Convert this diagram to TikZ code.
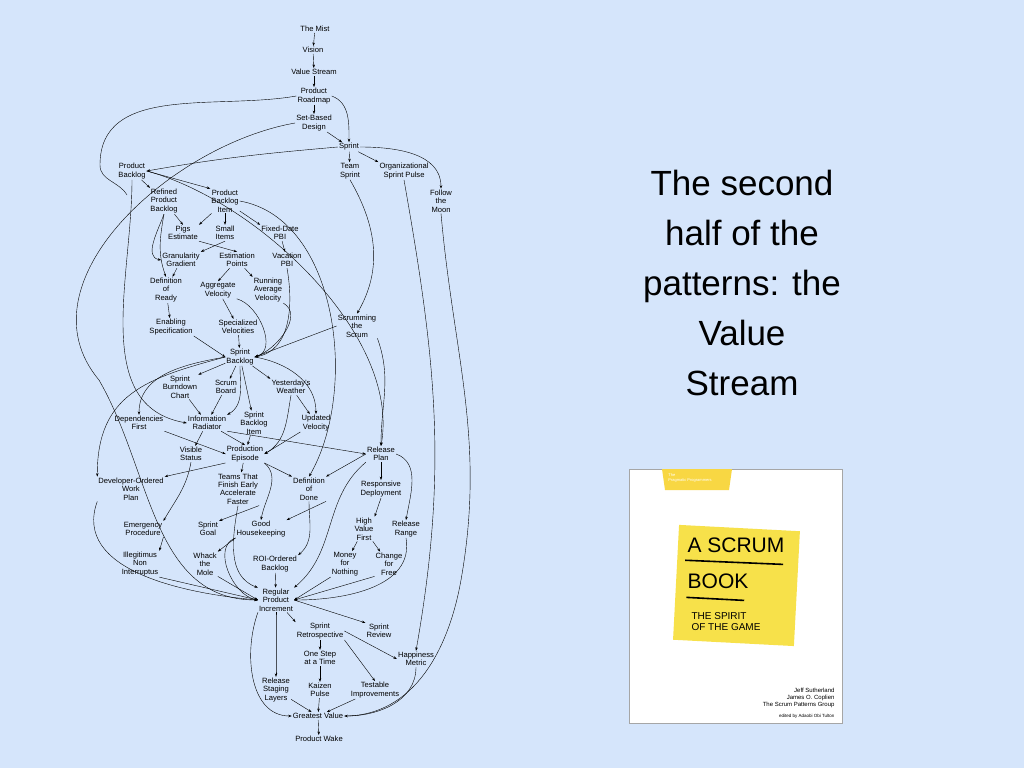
\documentclass[tikz,border=0pt]{standalone}
\usepackage{fontspec}
\setmainfont{Liberation Sans}
\usetikzlibrary{arrows.meta}
\definecolor{bg}{HTML}{D5E5FB}
\definecolor{note}{HTML}{F7E14A}
\begin{document}
\begin{tikzpicture}[x=1pt,y=-1pt,
  p/.style={align=center,font=\fontsize{7.6}{8.4}\selectfont,inner sep=1pt},
  e/.style={-{Stealth[length=3.5pt,width=2.5pt]},line width=0.4pt},
  big/.style={align=center,font=\fontsize{35}{50}\selectfont}]
\fill[bg] (0,0) rectangle (1024,768);
\useasboundingbox (0,0) rectangle (1024,768);
% nodes
\node[p] (mist) at (315,29) {The Mist};
\node[p] (vis) at (313,50) {Vision};
\node[p] (vs) at (314,72) {Value Stream};
\node[p] (rm) at (314,96) {Product\\Roadmap};
\node[p] (sbd) at (314,123) {Set-Based\\Design};
\node[p] (sp) at (349,147) {Sprint};
\node[p] (ts) at (350,171) {Team\\Sprint};
\node[p] (osp) at (404,171) {Organizational\\Sprint Pulse};
\node[p] (ftm) at (441,201) {Follow\\the\\Moon};
\node[p] (pb) at (132,171) {Product\\Backlog};
\node[p] (rpb) at (164,201) {Refined\\Product\\Backlog};
\node[p] (pbi) at (225,201) {Product\\Backlog\\Item};
\node[p] (pigs) at (183,233) {Pigs\\Estimate};
\node[p] (si) at (225,233) {Small\\Items};
\node[p] (fd) at (280,233) {Fixed-Date\\PBI};
\node[p] (gg) at (181,260) {Granularity\\Gradient};
\node[p] (ep) at (237,260) {Estimation\\Points};
\node[p] (vac) at (287,260) {Vacation\\PBI};
\node[p] (dor) at (166,290) {Definition\\of\\Ready};
\node[p] (av) at (218,290) {Aggregate\\Velocity};
\node[p] (rav) at (268,290) {Running\\Average\\Velocity};
\node[p] (es) at (171,327) {Enabling\\Specification};
\node[p] (sv) at (238,327) {Specialized\\Velocities};
\node[p] (sts) at (357,326) {Scrumming\\the\\Scrum};
\node[p] (sb) at (240,357) {Sprint\\Backlog};
\node[p] (sbc) at (180,387) {Sprint\\Burndown\\Chart};
\node[p] (scb) at (226,387) {Scrum\\Board};
\node[p] (yw) at (291,387) {Yesterday's\\Weather};
\node[p] (df) at (139,423) {Dependencies\\First};
\node[p] (ir) at (207,423) {Information\\Radiator};
\node[p] (sbi) at (254,423) {Sprint\\Backlog\\Item};
\node[p] (uv) at (316,423) {Updated\\Velocity};
\node[p] (vst) at (191,454) {Visible\\Status};
\node[p] (pe) at (245,454) {Production\\Episode};
\node[p] (rp) at (381,454) {Release\\Plan};
\node[p] (dow) at (131,489) {Developer-Ordered\\Work\\Plan};
\node[p] (tfe) at (238,489) {Teams That\\Finish Early\\Accelerate\\Faster};
\node[p] (dod) at (309,489) {Definition\\of\\Done};
\node[p] (rd) at (381,489) {Responsive\\Deployment};
\node[p] (emp) at (143,529) {Emergency\\Procedure};
\node[p] (sg) at (208,529) {Sprint\\Goal};
\node[p] (gh) at (261,529) {Good\\Housekeeping};
\node[p] (hvf) at (364,529) {High\\Value\\First};
\node[p] (rr) at (406,529) {Release\\Range};
\node[p] (ini) at (140,564) {Illegitimus\\Non\\Interruptus};
\node[p] (wtm) at (205,564) {Whack\\the\\Mole};
\node[p] (roi) at (275,564) {ROI-Ordered\\Backlog};
\node[p] (mfn) at (345,564) {Money\\for\\Nothing};
\node[p] (cff) at (389,564) {Change\\for\\Free};
\node[p] (rpi) at (276,600) {Regular\\Product\\Increment};
\node[p] (sr) at (320,631) {Sprint\\Retrospective};
\node[p] (srv) at (379,631) {Sprint\\Review};
\node[p] (hm) at (416,659) {Happiness\\Metric};
\node[p] (osat) at (320,658) {One Step\\at a Time};
\node[p] (rsl) at (276,690) {Release\\Staging\\Layers};
\node[p] (kp) at (320,690) {Kaizen\\Pulse};
\node[p] (ti) at (375,690) {Testable\\Improvements};
\node[p] (gv) at (318,716) {Greatest Value};
\node[p] (pw) at (319,739) {Product Wake};
% edges
\draw[e] (mist)--(vis); \draw[e] (vis)--(vs); \draw[e] (vs)--(rm); \draw[e] (rm)--(sbd);
\draw[e] (rm.east) to[out=-20,in=90] (sp.north);
\draw[e] (sbd)--(sp);
\draw[e] (sp)--(ts); \draw[e] (sp)--(osp.north west);
\draw[e] (sp.east) to[out=0,in=90] (ftm.north);
\draw (rm.west) to[out=190,in=90] (100,165) to[out=-90,in=120] (127,195);
\draw[e] (sp.west) to[out=185,in=10] (pb.east);
\draw[e] (pb)--(rpb); \draw[e] (pb.east)--(pbi.north west);
\draw[e] (pbi)--(pigs.north east); \draw[e] (pbi)--(si); \draw[e] (pbi)--(fd.north west);
\draw[e] (rpb)--(pigs.north);
\draw[e] (si.south)--(gg.north east); \draw[e] (pigs.south east)--(ep.north);
\draw[e] (rpb.south) to[out=-110,in=170] (gg.west);
\draw[e] (rpb.south) to[out=-100,in=110] (dor.north);
\draw[e] (fd)--(vac); \draw[e] (gg)--(dor);
\draw[e] (ep)--(av.north); \draw[e] (ep)--(rav.north west);
\draw[e] (dor)--(es); \draw[e] (av)--(sv);
\draw[e] (es.south east)--(sb.west); \draw[e] (sv)--(sb);
\draw[e] (vac.south) to[out=-80,in=10] (sb.east);
\draw[e] (rav.south east) to[out=-30,in=20] (sb.east);
\draw[e] (av.south east) to[out=-15,in=15] (sb.east);
\draw[e] (sts.west)--(sb.east);
\draw[e] (ts.south) to[out=-60,in=60] (sts.north);
\draw[e] (pbi.east) to[out=-10,in=60,looseness=0.9] (dod.north);
\draw[e] (pb.east) to[out=-15,in=80,looseness=0.8] (rp.north);
\draw[e] (pb.south) to[out=-90,in=170] (ir.west);
\draw[e] (osp.south) to[out=-80,in=80] (hm.north);
\draw (ftm.south) to[out=-85,in=80] (461,580) to[out=-100,in=0] (gv.east);
\draw[e] (sbd.west) to[out=190,in=130] (99,380) to[out=-60,in=180] (rpi.west);
\draw[e] (sb)--(sbc.north east); \draw[e] (sb)--(scb); \draw[e] (sb)--(yw.north west);
\draw[e] (sb)--(sbi); \draw[e] (sb.east) to[out=-10,in=90] (uv.north);
\draw[e] (sb.west) to[out=190,in=90] (df.north);
\draw[e] (sb.west) to[out=195,in=90,looseness=1.2] (dow.north west);
\draw[e] (sbc)--(ir); \draw[e] (scb)--(ir); \draw[e] (sb.south) to[out=-90,in=30] (ir.north east);
\draw[e] (yw)--(uv); \draw[e] (yw.south) to[out=-100,in=30] (pe.east);
\draw[e] (uv.south west)--(pe.east); \draw[e] (sbi)--(pe);
\draw[e] (ir)--(vst); \draw[e] (ir)--(pe.north); \draw[e] (ir.south east)--(rp.west);
\draw[e] (df.south east)--(pe.west);
\draw[e] (sts.south east) to[out=-70,in=90] (rp.north);
\draw[e] (pe.south west)--(dow.north east); \draw[e] (pe)--(tfe);
\draw[e] (pe.south east)--(dod.north west); \draw[e] (pe.south east) to[out=-40,in=80] (gh.north);
\draw[e] (rp.west)--(dod.north east); \draw[e] (rp)--(rd);
\draw[e] (rp.east) to[out=-20,in=80] (rr.north);
\draw[e] (rd.south)--(hvf.north east);
\draw[e] (hvf)--(mfn); \draw[e] (hvf)--(cff);
\draw[e] (tfe.south east)--(sg.north east); \draw[e] (dod.south east)--(gh.north east);
\draw[e] (gh.south west)--(wtm.north east);
\draw[e] (vst.south) to[out=-100,in=60] (emp.north east);
\draw[e] (emp.south east)--(ini.north east);
\draw[e] (dod.south) to[out=-90,in=40] (roi.north east);
\draw[e] (roi)--(rpi);
\draw[e] (ini.south east)--(rpi.west); \draw[e] (wtm.south east)--(rpi.west);
\draw[e] (gh.south west) to[out=200,in=170] (rpi.west);
\draw[e] (tfe.south) to[out=-100,in=160] (rpi.north west);
\draw[e] (dow.south west) to[out=-110,in=175] (rpi.west);
\draw[e] (mfn.south west)--(rpi.east); \draw[e] (cff.south west)--(rpi.east);
\draw[e] (rr.south) to[out=-80,in=0] (rpi.east);
\draw[e] (rp.south west) to[out=220,in=40] (rpi.north east);
\draw[e] (rpi)--(sr.north west); \draw[e] (rpi.east)--(srv.north west);
\draw[e] (rpi.south) to[out=-90,in=90] (rsl.north);
\draw[e] (sr)--(osat); \draw[e] (sr.south east)--(ti.north); \draw[e] (sr.east)--(hm.west);
\draw[e] (osat)--(kp);
\draw[e] (rsl)--(gv); \draw[e] (kp)--(gv); \draw[e] (ti)--(gv);
\draw[e] (hm.south) to[out=-90,in=0] (gv.east);
\draw[e] (rpi.south west) to[out=-110,in=180] (gv.west);
\draw[e] (gv)--(pw);
% title
\node[big] at (742,283) {The second\\half of the\\patterns: the\\Value\\Stream};
% book
\draw[gray!70,fill=white] (629,469) rectangle (842,723);
\fill[note!90!orange] (662,469) -- (732,469) -- (729,490) -- (665,490) -- cycle;
\node[white,font=\fontsize{4}{4.5}\selectfont,align=left] at (690,478) {The\\Pragmatic Programmers};
\fill[note,rotate around={-3:(737,585)}] (676,528) rectangle (797,643);
\begin{scope}[rotate around={-3:(737,585)}]
\node[font=\fontsize{21}{22}\selectfont,anchor=west] at (682,548) {A SCRUM};
\draw[line width=1.6pt] (684,563)--(782,562);
\node[font=\fontsize{21}{22}\selectfont,anchor=west] at (684,584) {BOOK};
\draw[line width=1.6pt] (687,600)--(745,600);
\node[font=\fontsize{10}{11}\selectfont,align=left,anchor=west] at (690,624) {THE SPIRIT\\OF THE GAME};
\end{scope}
\node[font=\fontsize{6}{7}\selectfont,align=right,anchor=east] at (838,698) {Jeff Sutherland\\James O. Coplien\\The Scrum Patterns Group};
\node[font=\fontsize{4.5}{5}\selectfont,anchor=east] at (838,716) {edited by Adaobi Obi Tulton};
\end{tikzpicture}
\end{document}
